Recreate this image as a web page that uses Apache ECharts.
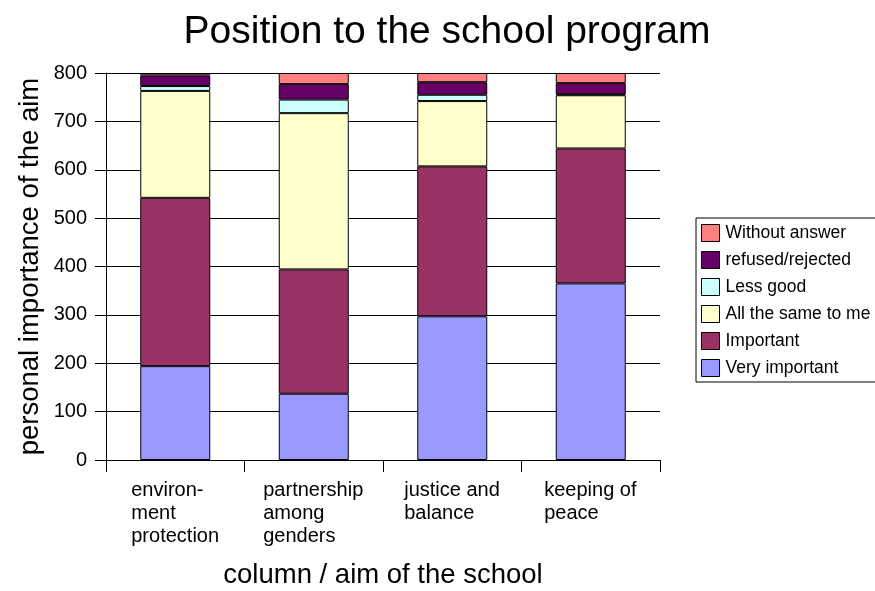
<!DOCTYPE html>
<html>
<head>
<meta charset="utf-8">
<script src="https://cdn.jsdelivr.net/npm/echarts@6/dist/echarts.min.js"></script>
<style>
html,body{margin:0;padding:0;background:#fff;}
#chart{width:875px;height:591px;}
</style>
</head>
<body>
<div id="chart"></div>
<script>
// ---- data ----
var categories = ["environ-\nment\nprotection", "partnership\namong\ngenders", "justice and\nbalance", "keeping of\npeace"];
var seriesNames = ["Very important", "Important", "All the same to me", "Less good", "refused/rejected", "Without answer"];
var veryImportant = [194, 137, 297, 365];
var important     = [348, 257, 310, 279];
var allTheSame    = [221, 323, 135, 110];
var lessGood      = [10, 28, 13, 2];
var refused       = [22, 32, 26, 23];
var withoutAnswer = [5, 23, 19, 21];
var yTicks = [0, 100, 200, 300, 400, 500, 600, 700, 800];

var values = [veryImportant, important, allTheSame, lessGood, refused, withoutAnswer];
var colors = ["#9999FF", "#993366", "#FFFFCC", "#CCFFFF", "#660066", "#FF8080"];
var FONT = '"Liberation Sans", Arial, sans-serif';

var cv = document.createElement('canvas').getContext('2d');
function textW(t, size) { cv.font = size + 'px "Liberation Sans"'; return cv.measureText(t).width; }

var rich = {};
categories.forEach(function (c, i) {
  var w = 0;
  c.split('\n').forEach(function (l) { w = Math.max(w, textW(l, 20)); });
  rich['c' + i] = { width: Math.ceil(w), align: 'left', fontSize: 20, lineHeight: 23, color: '#000', fontFamily: FONT };
});

var titleText = 'Position to the school program';
var titleW = textW(titleText, 39);

var chart = echarts.init(document.getElementById('chart'), null, { renderer: 'canvas' });
var series = seriesNames.map(function (n, i) {
  return {
    name: n, type: 'bar', stack: 'total', data: values[i], barWidth: 70,
    itemStyle: { color: colors[i], borderColor: '#000', borderWidth: 1 },
    emphasis: { disabled: true }
  };
});

chart.setOption({
  animation: false,
  backgroundColor: '#fff',
  title: {
    text: titleText, left: 447 - titleW / 2 - 5, top: 8,
    textStyle: { fontFamily: FONT, fontSize: 39, fontWeight: 'normal', color: '#000', lineHeight: 39 }
  },
  legend: {
    orient: 'vertical', left: 696, top: 218,
    data: seriesNames.slice().reverse(),
    itemWidth: 18, itemHeight: 17, itemGap: 9,
    padding: [6, 10, 5, 5],
    borderColor: '#000', borderWidth: 1, backgroundColor: '#fff',
    icon: 'rect',
    itemStyle: { borderColor: '#000', borderWidth: 1 },
    textStyle: { fontFamily: FONT, fontSize: 17.5, color: '#000', lineHeight: 17, padding: [0, 0, 0, 1] }
  },
  grid: { left: 106, right: 215, top: 73, bottom: 131, containLabel: false, outerBoundsMode: 'none' },
  xAxis: {
    type: 'category', data: categories,
    name: 'column / aim of the school', nameLocation: 'middle', nameGap: 101, nameMoveOverlap: false,
    nameTextStyle: { fontFamily: FONT, fontSize: 27.5, color: '#000' },
    axisLine: { lineStyle: { color: '#000', width: 1 } },
    axisTick: { show: true, length: 12, inside: false, lineStyle: { color: '#000' } },
    axisLabel: {
      interval: 0, margin: 19, align: 'center', verticalAlign: 'top',
      formatter: function (v, i) {
        return v.split('\n').map(function (l) { return '{c' + i + '|' + l + '}'; }).join('\n');
      },
      rich: rich
    }
  },
  yAxis: {
    type: 'value', min: yTicks[0], max: yTicks[yTicks.length - 1], interval: 100,
    name: 'personal importance of the aim', nameLocation: 'middle', nameGap: 62, nameMoveOverlap: false,
    nameTextStyle: { fontFamily: FONT, fontSize: 27.5, color: '#000' },
    axisLine: { show: true, lineStyle: { color: '#000', width: 1 } },
    axisTick: { show: true, length: 11, lineStyle: { color: '#000' } },
    axisLabel: { margin: 19, fontFamily: FONT, fontSize: 20, color: '#000' },
    splitLine: { show: true, lineStyle: { color: '#000', width: 1 } }
  },
  series: series
});
</script>
</body>
</html>
